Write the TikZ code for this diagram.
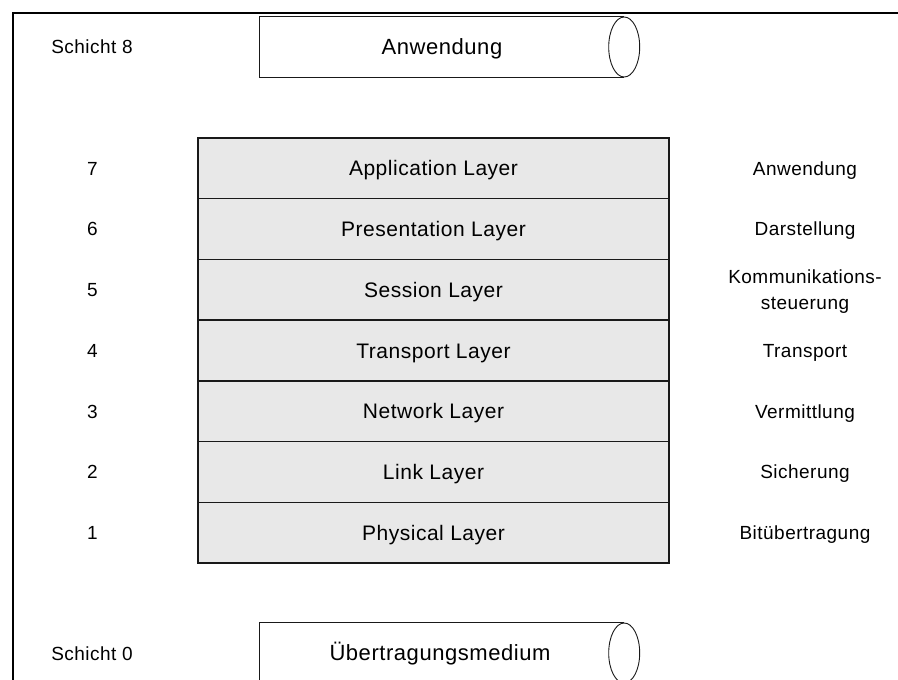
\documentclass[tikz,border=0pt]{standalone}
\usepackage{fontspec}
\setmainfont{Liberation Sans}[LetterSpace=2.5]
\begin{document}
\begin{tikzpicture}[x=1pt, y=-1pt,
  txt/.style={font=\fontsize{19pt}{22.8pt}\selectfont, inner sep=0pt,
              text height=13.6pt, text depth=0pt, anchor=center},
  layer/.style={txt, font=\fontsize{21pt}{25pt}\selectfont, text height=15pt,
                draw=black!90, line width=1.3pt, fill=black!9,
                minimum width=471pt, minimum height=60.71pt},
  cyl/.style={font=\fontsize{22pt}{26pt}\selectfont, inner sep=0pt,
              text height=15.8pt, text depth=0pt,
              minimum width=364pt, minimum height=60pt},
  cylline/.style={draw=black!90, line width=0.9pt}]
\useasboundingbox (0,0) rectangle (898,680);
\clip (0,0) rectangle (898,680);

% outer frame (runs past the right and bottom edges)
\draw[line width=2pt] (13,13) rectangle (915,700);

% layer stack
\node[layer] (l7) at (433.5,168.36) {Application Layer};
\node[layer] (l6) at (433.5,229.07) {Presentation Layer};
\node[layer] (l5) at (433.5,289.79) {Session Layer};
\node[layer] (l4) at (433.5,350.50) {Transport Layer};
\node[layer] (l3) at (433.5,411.21) {Network Layer};
\node[layer] (l2) at (433.5,471.93) {Link Layer};
\node[layer] (l1) at (433.5,532.64) {Physical Layer};

% layer numbers
\foreach \n in {7,6,5,4,3,2,1}
  \node[txt] (n\n) at (l\n.center -| 92.5,0) {\n};

% German layer names
\node[txt] (g7) at (l7.center -| 805,0) {Anwendung};
\node[txt] (g6) at (l6.center -| 805,0) {Darstellung};
\node[txt, yshift=13.35pt] (g5a) at (l5.center -| 805,0) {Kommunikations-};
\node[txt, yshift=-13.35pt] (g5b) at (l5.center -| 805,0) {steuerung};
\node[txt] (g4) at (l4.center -| 805,0) {Transport};
\node[txt] (g3) at (l3.center -| 805,0) {Vermittlung};
\node[txt] (g2) at (l2.center -| 805,0) {Sicherung};
\node[txt] (g1) at (l1.center -| 805,0) {Bitübertragung};

% layer 8: application
\node[txt] (s8) at (92,46.7) {Schicht 8};
\node[cyl] (app) at (442,47) {Anwendung};
\draw[cylline] (app.north east) -- (app.north west) -- (app.south west) -- (app.south east);
\draw[cylline] (app.east) ellipse [x radius=15.5, y radius=30];

% layer 0: medium
\node[txt] (s0) at (92,653.7) {Schicht 0};
\node[cyl] (med) at (440,653) {Übertragungsmedium};
\draw[cylline] (med.north east -| app.east) -- (med.north west -| app.west) -- (med.south west -| app.west) -- (med.south east -| app.east);
\draw[cylline] (med.east -| app.east) ellipse [x radius=15.5, y radius=30];
\end{tikzpicture}
\end{document}
